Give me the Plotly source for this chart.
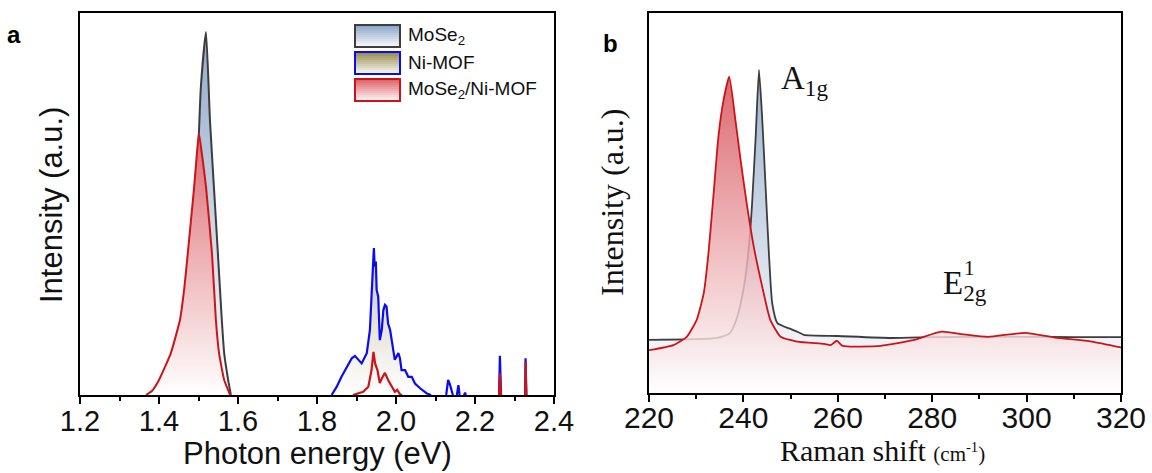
import plotly.graph_objects as go

# ---------------- Panel a : PL spectra ----------------
energy_mose2 = [1.428, 1.453, 1.473, 1.486, 1.496, 1.501, 1.506, 1.519, 1.529, 1.539,
                1.549, 1.559, 1.565, 1.575, 1.582]
pl_mose2 = [0.0, 0.038, 0.19, 0.36, 0.527, 0.663, 0.78, 0.919, 0.696, 0.527,
            0.36, 0.19, 0.106, 0.038, 0.0]

# None marks a gap where the spectrum lies on the baseline
energy_nimof = [1.837, 1.850, 1.862, 1.875, 1.888, 1.896, 1.905, 1.913, 1.926, 1.934,
                1.938, 1.941, 1.944, 1.946, 1.949, 1.951, 1.955, 1.959, 1.964, 1.968,
                1.972, 1.976, 1.980, 1.985, 1.989, 1.993, 1.997, 2.006, 2.010, 2.014,
                2.023, 2.031, 2.040, 2.048, 2.061, 2.078, 2.089, None, 2.127, 2.132, 2.137,
                2.142, 2.144, None, 2.154, 2.158, 2.161, None, 2.172, 2.175, 2.177, None,
                2.261, 2.263, 2.266, None, 2.327, 2.328, 2.330]
pl_nimof = [0.0, 0.021, 0.046, 0.071, 0.093, 0.099, 0.089, 0.080, 0.106, 0.165,
            0.249, 0.325, 0.372, 0.325, 0.338, 0.266, 0.249, 0.139, 0.165, 0.215,
            0.228, 0.224, 0.181, 0.165, 0.139, 0.114, 0.089, 0.106, 0.093, 0.063,
            0.063, 0.046, 0.046, 0.029, 0.017, 0.004, 0.0, None, 0.0, 0.038, 0.025,
            0.010, 0.0, None, 0.0, 0.025, 0.0, None, 0.0, 0.006, 0.0, None,
            0.0, 0.099, 0.0, None, 0.0, 0.093, 0.0]

# MoSe2/Ni-MOF: main exciton peak and the weak features at higher energy
energy_hybrid_peak = [1.367, 1.382, 1.400, 1.430, 1.453, 1.464, 1.473, 1.481, 1.489, 1.495,
                      1.501, 1.510, 1.519, 1.534, 1.544, 1.552, 1.565, 1.580]
pl_hybrid_peak = [0.0, 0.01, 0.038, 0.106, 0.19, 0.27, 0.36, 0.443, 0.527, 0.60,
                  0.663, 0.60, 0.527, 0.36, 0.19, 0.106, 0.038, 0.0]
energy_hybrid_high = [1.891, 1.917, 1.930, 1.938, 1.943, 1.947,
                      1.953, 1.959, 1.964, 1.972, 1.980, 1.989, 1.997, 2.003, 2.010, 2.015,
                      None, 2.261, 2.263, 2.266, None, 2.327, 2.328, 2.330]
pl_hybrid_high = [0.0, 0.008, 0.021, 0.063, 0.109, 0.080,
                  0.063, 0.030, 0.042, 0.056, 0.038, 0.021, 0.008, 0.013, 0.002, 0.0,
                  None, 0.0, 0.055, 0.0, None, 0.0, 0.084, 0.0]

# ---------------- Panel b : Raman spectra ----------------
raman_mose2 = [220, 234.4, 237.2, 238.7, 240.1, 241.1, 241.8, 242.6, 243.3, 244.0, 244.7,
               245.4, 246.1, 247.2, 250.0, 251.4, 252.8, 260, 271.3, 280, 290, 300, 310, 320]
int_mose2 = [0.135, 0.140, 0.153, 0.194, 0.27, 0.364, 0.474, 0.652, 0.822, 0.695, 0.525,
             0.356, 0.229, 0.178, 0.163, 0.156, 0.148, 0.145, 0.14, 0.142, 0.143, 0.143, 0.142, 0.142]

raman_hybrid = [220, 225.2, 228.0, 230.1, 231.6, 232.6, 233.7, 234.7, 235.8, 237.0, 238.3,
                239.4, 240.8, 242.2, 244.0, 245.7, 247.9, 251.4, 257.1, 258.5, 259.8,
                261.0, 269.1, 276.2, 281.9, 286.2, 291.8, 299.6, 306.0, 313.8, 320]
int_hybrid = [0.109, 0.122, 0.143, 0.186, 0.254, 0.356, 0.509, 0.652, 0.746, 0.805, 0.695,
              0.593, 0.474, 0.372, 0.27, 0.186, 0.143, 0.131, 0.125, 0.122, 0.133,
              0.12, 0.12, 0.135, 0.156, 0.15, 0.143, 0.153, 0.141, 0.131, 0.116]

series_names = ["MoSe<sub>2</sub>", "Ni-MOF", "MoSe<sub>2</sub>/Ni-MOF"]
a_ticks = [1.2, 1.4, 1.6, 1.8, 2.0, 2.2, 2.4]
b_ticks = [220, 240, 260, 280, 300, 320]

W, H = 1152, 473
YTOP = 0.967
SANS = "Liberation Sans, Arial, sans-serif"
SERIF = "Liberation Serif, Times New Roman, serif"

grey_line = "#3d3d3d"
blue_line = "#0b0bf0"
red_line = "#cc1418"

fill_top = {"mose2": (140, 166, 200), "nimof": (118, 108, 48), "hybrid": (205, 40, 50)}


def grad(rgb, a_top=1.0, a_bot=1.0):
    r, g, b = rgb
    return dict(type="vertical", start=0, stop=YTOP,
                colorscale=[[0, f"rgba(255,255,255,{a_bot})"], [1, f"rgba({r},{g},{b},{a_top})"]])


fig = go.Figure()

fig.add_trace(go.Scatter(x=energy_mose2, y=pl_mose2, name=series_names[0], mode="lines",
                         line=dict(color=grey_line, width=2, shape="spline", smoothing=0.5),
                         fill="tozeroy", fillgradient=grad(fill_top["mose2"]),
                         xaxis="x", yaxis="y", showlegend=False))
fig.add_trace(go.Scatter(x=energy_nimof, y=pl_nimof, name=series_names[1], mode="lines",
                         line=dict(color=blue_line, width=2.2), connectgaps=False,
                         fill="tozeroy", fillgradient=grad(fill_top["nimof"]),
                         xaxis="x", yaxis="y", showlegend=False))
fig.add_trace(go.Scatter(x=energy_hybrid_peak, y=pl_hybrid_peak, name=series_names[2], mode="lines",
                         line=dict(color=red_line, width=2, shape="spline", smoothing=0.4),
                         fill="tozeroy", fillgradient=grad(fill_top["hybrid"]),
                         xaxis="x", yaxis="y", showlegend=False))
fig.add_trace(go.Scatter(x=energy_hybrid_high, y=pl_hybrid_high, name=series_names[2], mode="lines",
                         line=dict(color=red_line, width=2.2), connectgaps=False,
                         fill="tozeroy", fillgradient=grad(fill_top["hybrid"]),
                         xaxis="x", yaxis="y", showlegend=False))

fig.add_trace(go.Scatter(x=raman_mose2, y=int_mose2, name=series_names[0], mode="lines",
                         line=dict(color=grey_line, width=1.8, shape="spline", smoothing=0.5),
                         fill="tozeroy", fillgradient=grad(fill_top["mose2"]),
                         showlegend=False, xaxis="x2", yaxis="y2"))
fig.add_trace(go.Scatter(x=raman_hybrid, y=int_hybrid, name=series_names[2], mode="lines",
                         line=dict(color=red_line, width=1.8, shape="spline", smoothing=0.5),
                         fill="tozeroy", fillgradient=grad(fill_top["hybrid"], 0.85, 0.8),
                         showlegend=False, xaxis="x2", yaxis="y2"))

axis_common = dict(showline=True, linecolor="black", linewidth=1.6, mirror=True,
                   showgrid=False, zeroline=False, automargin=False)

fig.update_layout(
    width=W, height=H, template="none",
    margin=dict(l=0, r=0, t=0, b=0, pad=0),
    paper_bgcolor="white", plot_bgcolor="white",
    showlegend=False,
    xaxis=dict(domain=[80 / W, 554 / W], range=[1.2, 2.4], anchor="y",
               tickmode="array", tickvals=a_ticks, ticktext=[f"{t:.1f}" for t in a_ticks],
               ticks="outside", ticklen=7, tickwidth=1.5, tickcolor="black", ticklabelstandoff=-8,
               minor=dict(dtick=0.1, tick0=1.2, ticks="outside", ticklen=4, tickwidth=1.5, tickcolor="black"),
               tickfont=dict(family=SANS, size=29, color="#111"), **axis_common),
    yaxis=dict(domain=[78 / H, 460 / H], range=[0, YTOP], anchor="x",
               showticklabels=False, ticks="", **axis_common),
    xaxis2=dict(domain=[649 / W, 1121 / W], range=[220, 320], anchor="y2",
                tickmode="array", tickvals=b_ticks, ticktext=[str(t) for t in b_ticks],
                ticks="outside", ticklen=7, tickwidth=1.5, tickcolor="black", ticklabelstandoff=-10,
                minor=dict(dtick=10, tick0=220, ticks="outside", ticklen=4, tickwidth=1.5, tickcolor="black"),
                tickfont=dict(family=SANS, size=30, color="#111"), **axis_common),
    yaxis2=dict(domain=[80 / H, 460 / H], range=[0, YTOP], anchor="x2",
                showticklabels=False, ticks="", **axis_common),
)

# ---- legend drawn as gradient swatches + labels (panel a, top right) ----
legend_rows = [(25, fill_top["mose2"], grey_line, series_names[0]),
               (52, (150, 142, 80), blue_line, series_names[1]),
               (79, (222, 100, 106), red_line, series_names[2])]
sx0, sx1, sh = 355, 400, 22
nb = 11
for top, rgb, edge, label in legend_rows:
    for k in range(nb):
        t = k / (nb - 1)
        col = tuple(int(round(c + (255 - c) * 0.92 * t)) for c in rgb)
        y0 = top + sh * k / nb
        y1 = top + sh * (k + 1) / nb
        fig.add_shape(type="rect", xref="paper", yref="paper",
                      x0=sx0 / W, x1=sx1 / W, y0=1 - y1 / H, y1=1 - y0 / H,
                      fillcolor=f"rgb{col}", line=dict(width=0), layer="above")
    fig.add_shape(type="rect", xref="paper", yref="paper",
                  x0=sx0 / W, x1=sx1 / W, y0=1 - (top + sh) / H, y1=1 - top / H,
                  line=dict(color=edge, width=2), fillcolor="rgba(0,0,0,0)", layer="above")
    fig.add_annotation(xref="paper", yref="paper", showarrow=False, text=label,
                       x=406 / W, y=1 - (top + sh / 2) / H, xanchor="left", yanchor="middle",
                       font=dict(family=SANS, size=19, color="#111"))

ann = [
    dict(text="<b>a</b>", x=14 / W, y=1 - 35 / H, font=dict(family=SANS, size=24, color="black")),
    dict(text="<b>b</b>", x=610 / W, y=1 - 43 / H, font=dict(family=SANS, size=24, color="black")),
    dict(text="Photon energy (eV)", x=317 / W, y=1 - 453 / H, font=dict(family=SANS, size=31, color="#111")),
    dict(text="Intensity (a.u.)", x=51 / W, y=1 - 205 / H, textangle=-90,
         font=dict(family=SANS, size=31, color="#111")),
    dict(text="Raman shift <span style='font-size:21px'>(cm<sup>-1</sup>)</span>", x=882 / W, y=1 - 450 / H,
         font=dict(family=SERIF, size=30, color="#111")),
    dict(text="Intensity (a.u.)", x=612 / W, y=1 - 202 / H, textangle=-90,
         font=dict(family=SERIF, size=32, color="#111")),
    dict(text="A<sub>1g</sub>", x=779 / W, y=1 - 80 / H, xanchor="left",
         font=dict(family=SERIF, size=33, color="#111")),
    dict(text="E<sub>2g</sub>", x=941 / W, y=1 - 285 / H, xanchor="left",
         font=dict(family=SERIF, size=33, color="#111")),
    dict(text="1", x=962 / W, y=1 - 268 / H, xanchor="left",
         font=dict(family=SERIF, size=21, color="#111")),
]
for a in ann:
    a.setdefault("xanchor", "center")
    a.setdefault("yanchor", "middle")
    fig.add_annotation(xref="paper", yref="paper", showarrow=False, **a)

fig.write_html("out.html")
